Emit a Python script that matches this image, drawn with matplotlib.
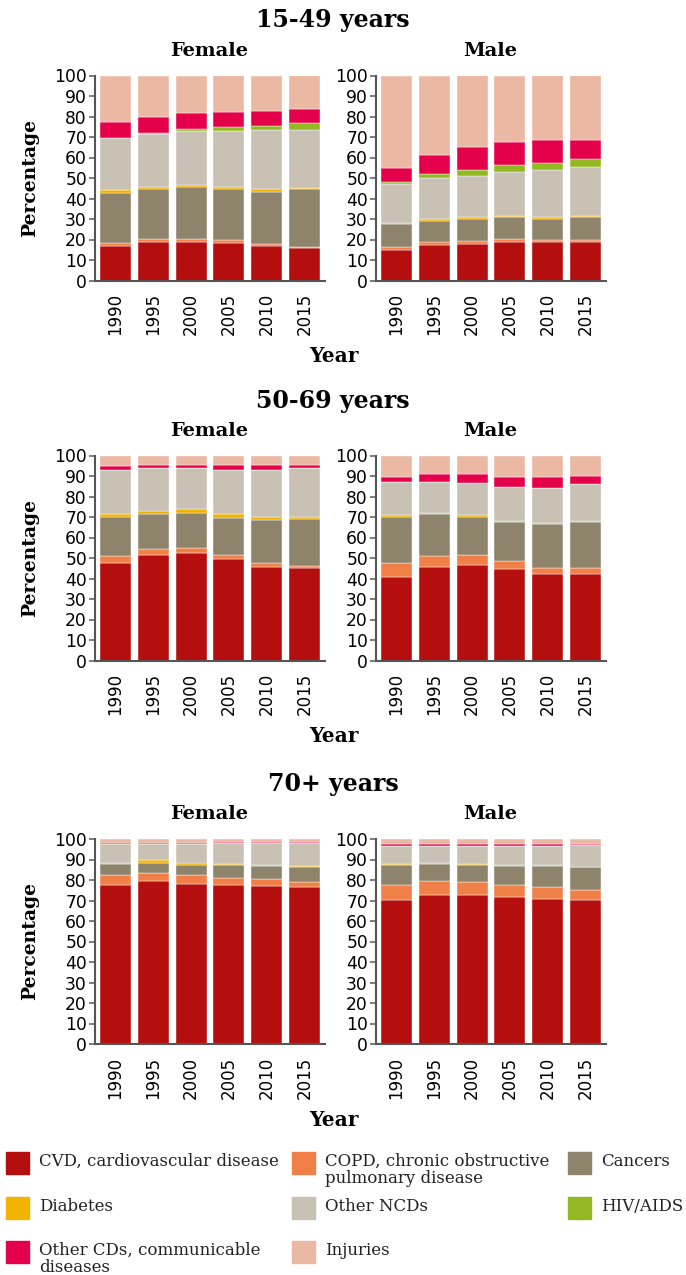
import numpy as np
import matplotlib.pyplot as plt
from matplotlib.patches import Rectangle

years = ['1990', '1995', '2000', '2005', '2010', '2015']
causes = ['CVD, cardiovascular disease', 'COPD, chronic obstructive\npulmonary disease', 'Cancers',
          'Diabetes', 'Other NCDs', 'HIV/AIDS', 'Other CDs, communicable\ndiseases', 'Injuries']
colors = ['#b50e0e', '#f08048', '#8e846c', '#f2b200', '#c9c1b4', '#92b922', '#e4004a', '#ebb8a4']

# shares (%) per year, columns follow `causes`
female_15_49 = [[17.0, 1.4, 24.5, 1.3, 25.1, 0.0, 7.9, 22.8],
                [18.9, 1.3, 24.2, 1.1, 26.1, 0.5, 7.7, 20.2],
                [18.9, 1.5, 25.1, 1.3, 26.0, 1.3, 7.6, 18.3],
                [18.4, 1.3, 24.7, 1.1, 27.3, 1.9, 7.7, 17.6],
                [17.0, 0.8, 25.6, 1.0, 29.2, 1.8, 7.5, 17.1],
                [15.7, 0.8, 27.9, 0.6, 28.6, 3.1, 7.0, 16.3]]
male_15_49 = [[14.7, 1.8, 11.1, 0.6, 18.9, 1.0, 7.0, 44.9],
              [17.1, 1.8, 10.3, 0.8, 20.2, 1.8, 9.0, 39.0],
              [17.8, 1.3, 11.1, 0.8, 19.9, 3.1, 10.9, 35.1],
              [18.9, 1.3, 10.6, 0.7, 21.2, 3.7, 11.1, 32.5],
              [18.9, 0.8, 10.5, 0.8, 23.0, 3.3, 11.1, 31.6],
              [18.9, 0.8, 11.1, 0.7, 24.0, 3.7, 9.2, 31.6]]
female_50_69 = [[47.6, 3.5, 19.0, 1.2, 21.8, 0.0, 1.7, 5.2],
                [51.5, 3.0, 16.8, 1.6, 20.9, 0.0, 1.6, 4.6],
                [52.2, 2.8, 16.8, 2.3, 19.7, 0.0, 1.6, 4.6],
                [49.3, 2.2, 18.0, 1.8, 21.8, 0.0, 2.3, 4.6],
                [45.8, 1.8, 20.8, 1.7, 23.0, 0.0, 2.3, 4.6],
                [44.9, 1.3, 22.8, 1.1, 23.7, 0.0, 1.6, 4.6]]
male_50_69 = [[40.9, 6.7, 22.5, 0.9, 16.1, 0.0, 2.6, 10.3],
              [45.4, 5.7, 20.2, 0.5, 15.3, 0.0, 3.8, 9.1],
              [46.5, 5.0, 18.6, 0.9, 15.5, 0.0, 4.4, 9.1],
              [44.4, 4.1, 19.0, 0.5, 16.8, 0.0, 4.9, 10.3],
              [42.1, 2.9, 21.4, 0.5, 17.3, 0.0, 5.5, 10.3],
              [42.1, 2.9, 22.5, 0.5, 18.0, 0.0, 4.2, 9.8]]
female_70 = [[77.8, 4.5, 5.5, 0.7, 9.2, 0.0, 0.5, 1.8],
             [79.5, 3.9, 4.9, 1.3, 8.1, 0.0, 0.5, 1.8],
             [78.2, 4.1, 5.0, 1.2, 9.2, 0.0, 0.5, 1.8],
             [77.8, 3.4, 6.1, 0.5, 10.4, 0.0, 0.5, 1.3],
             [77.1, 3.4, 6.4, 0.4, 10.9, 0.0, 0.5, 1.3],
             [76.6, 2.3, 7.3, 0.7, 11.3, 0.0, 0.5, 1.3]]
male_70 = [[70.3, 7.5, 9.5, 0.5, 8.6, 0.0, 1.2, 2.4],
           [72.6, 6.9, 8.3, 0.7, 7.9, 0.0, 1.2, 2.4],
           [72.6, 6.3, 8.4, 0.5, 8.6, 0.0, 1.2, 2.4],
           [71.6, 6.2, 9.1, 0.4, 9.1, 0.0, 1.2, 2.4],
           [70.9, 5.9, 10.1, 0.4, 9.1, 0.0, 1.2, 2.4],
           [70.3, 4.7, 11.2, 0.2, 10.7, 0.0, 0.3, 2.6]]

groups = [('15-49 years', female_15_49, male_15_49),
          ('50-69 years', female_50_69, male_50_69),
          ('70+ years', female_70, male_70)]

W, H = 686, 1275
serif = 'DejaVu Serif'
fig = plt.figure(figsize=(W / 100, H / 100), dpi=100)


def fx(px):
    return px / W


def fy(py):
    return 1 - py / H


def draw_panel(ax, data):
    data = np.array(data)
    x = np.arange(len(years))
    bottom = np.zeros(len(years))
    for k in range(len(causes)):
        ax.bar(x, data[:, k], 0.82, bottom=bottom, color=colors[k], edgecolor='white', linewidth=0.3)
        bottom += data[:, k]
    ax.set_xlim(-0.54, len(years) - 0.46)
    ax.set_ylim(0, 100)
    ax.set_yticks(range(0, 101, 10))
    ax.set_xticks(x)
    ax.set_xticklabels(years, rotation=90)
    ax.tick_params(axis='x', length=0, pad=9, labelsize=12)
    ax.tick_params(axis='y', length=4.3, width=1.2, color='#666666', pad=1.5, labelsize=12.3)
    for s in ['top', 'right']:
        ax.spines[s].set_visible(False)
    for s in ['left', 'bottom']:
        ax.spines[s].set_color('#555555')
        ax.spines[s].set_linewidth(1.5)


# y of 0 and 100 (pixels) for each group
y_zero = [280.5, 660.5, 1044]
y_full = [75.5, 455.5, 839]
for g, (title, fem, mal) in enumerate(groups):
    y0, y1 = y_zero[g], y_full[g]
    for left, data, name in [(95, fem, 'Female'), (376, mal, 'Male')]:
        ax = fig.add_axes([fx(left), fy(y0), fx(230), (y0 - y1) / H])
        draw_panel(ax, data)
        fig.text(fx(left + 114), fy(y1 - 25), name, ha='center', va='center',
                 fontsize=14, fontweight='bold', family=serif)
    fig.text(fx(333), fy(y1 - 55), title, ha='center', va='center',
             fontsize=17, fontweight='bold', family=serif)
    fig.text(fx(30), fy((y0 + y1) / 2), 'Percentage', rotation=90, ha='center', va='center',
             fontsize=13.5, fontweight='bold', family=serif)
    fig.text(fx(334), fy(y0 + 76), 'Year', ha='center', va='center',
             fontsize=14.5, fontweight='bold', family=serif)

# legend laid out row by row like the original
leg_x = [6, 292, 568]
leg_y = [1163, 1208, 1252]
for k, label in enumerate(causes):
    row, col = divmod(k, 3)
    px, py = leg_x[col], leg_y[row]
    fig.patches.append(Rectangle((fx(px), fy(py + 11)), fx(23), 22 / H, color=colors[k],
                                 transform=fig.transFigure, figure=fig))
    fig.text(fx(px + 33), fy(py - 10), label, ha='left', va='top', fontsize=12,
             family=serif, linespacing=1.0, color='#222222')

fig.savefig('out.png', dpi=100)
